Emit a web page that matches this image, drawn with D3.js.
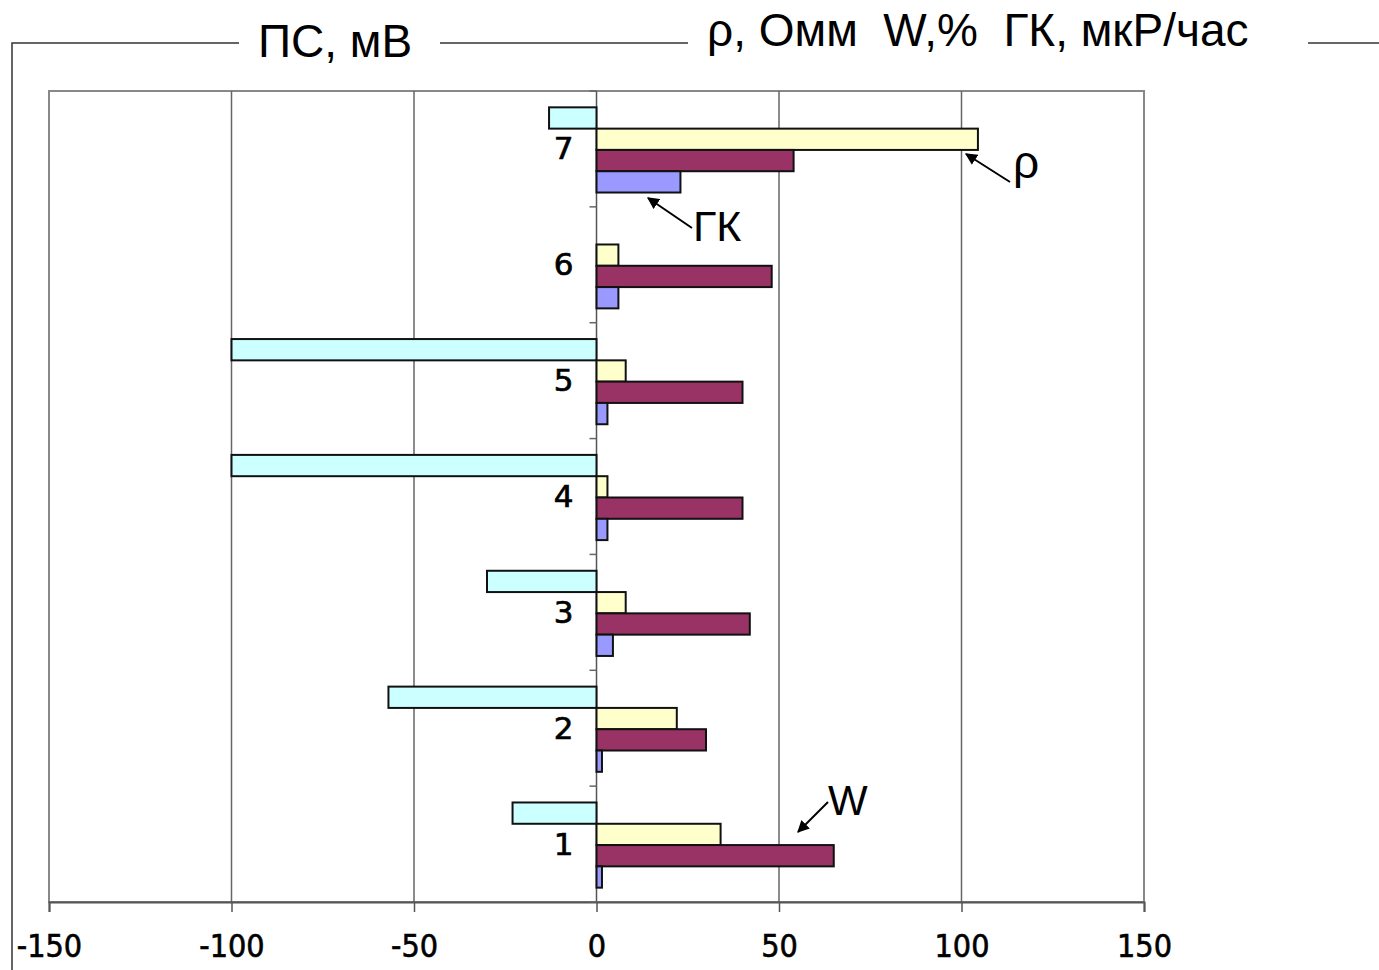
<!DOCTYPE html>
<html>
<head>
<meta charset="utf-8">
<script src="https://cdn.jsdelivr.net/npm/d3@7"></script>
<style>
  html, body { margin: 0; padding: 0; background: #fff; }
  svg { display: block; }
  text { white-space: pre; }
</style>
</head>
<body>
<svg id="chart" width="1379" height="970"></svg>
<script>
// Layer numbers (bottom to top) and measured log values per layer
const categories = ["1", "2", "3", "4", "5", "6", "7"];
const psValues  = [-23, -57, -30, -100, -100, 0, -13];   // ПС, мВ
const rhoValues = [34, 22, 8, 3, 8, 6, 104.5];           // ρ, Омм
const wValues   = [65, 30, 42, 40, 40, 48, 54];          // W, %
const gkValues  = [1.5, 1.5, 4.5, 3, 3, 6, 23];          // ГК, мкР/час
const xTicks = [-150, -100, -50, 0, 50, 100, 150];

const seriesNames  = ["ps", "rho", "w", "gk"];
const seriesColors = { ps: "#ccffff", rho: "#ffffcc", w: "#993366", gk: "#9999ff" };
const seriesData   = { ps: psValues, rho: rhoValues, w: wValues, gk: gkValues };

const svg = d3.select("#chart");
const plotLeft = 49, plotRight = 1144, plotTop = 91, plotBottom = 902;

const x = d3.scaleLinear().domain([-150, 150]).range([plotLeft, plotRight]);
const y = d3.scaleBand().domain(categories.slice().reverse()).range([plotTop, plotBottom]).padding(0);
const ySeries = d3.scaleBand().domain(seriesNames).range([0, y.bandwidth()])
  .paddingInner(0).paddingOuter(0.72);

// outer frame with title gaps
const frame = svg.append("g").attr("stroke", "#333").attr("stroke-width", 1.5).attr("fill", "none");
frame.append("path").attr("d", `M12,970 V43 H239`);
frame.append("path").attr("d", `M440,43 H688`);
frame.append("path").attr("d", `M1308,43 H1379`);

svg.append("text").attr("x", 258).attr("y", 57)
  .attr("font-family", "Liberation Sans, Arial, sans-serif").attr("font-size", 46)
  .text("ПС, мВ");
svg.append("text").attr("x", 707).attr("y", 46)
  .attr("font-family", "Liberation Sans, Arial, sans-serif").attr("font-size", 46)
  .text("ρ, Омм  W,%  ГК, мкР/час");

// plot area border
svg.append("rect").attr("x", plotLeft).attr("y", plotTop)
  .attr("width", plotRight - plotLeft).attr("height", plotBottom - plotTop)
  .attr("fill", "none").attr("stroke", "#888").attr("stroke-width", 2);

// vertical gridlines
svg.append("g").selectAll("line").data(xTicks.filter(d => d !== 0 && Math.abs(d) !== 150)).join("line")
  .attr("x1", d => x(d)).attr("x2", d => x(d)).attr("y1", plotTop).attr("y2", plotBottom)
  .attr("stroke", "#666").attr("stroke-width", 1.5);

// bottom axis
const xAxis = svg.append("g").attr("transform", `translate(0,${plotBottom})`)
  .call(d3.axisBottom(x).tickValues(xTicks).tickSize(10).tickPadding(22).tickFormat(d3.format("d")));
xAxis.select(".domain").attr("stroke", "#555").attr("stroke-width", 2);
xAxis.selectAll(".tick line").attr("stroke", "#555").attr("stroke-width", 1.5);
xAxis.selectAll(".tick text").attr("font-family", "DejaVu Sans Condensed, DejaVu Sans, sans-serif")
  .attr("font-size", 32).attr("fill", "#000").attr("stroke", "#000").attr("stroke-width", 0.6)
  .text(d => d < 0 ? "-" + Math.abs(d) : d);

// category axis at zero
const yAxis = svg.append("g").attr("transform", `translate(${x(0)},0)`);
yAxis.append("line").attr("x1", 0).attr("x2", 0).attr("y1", plotTop).attr("y2", plotBottom)
  .attr("stroke", "#555").attr("stroke-width", 1.5);
const boundaries = d3.range(categories.length + 1).map(i => plotTop + i * y.step());
yAxis.selectAll(".cat-tick").data(boundaries).join("line").attr("class", "cat-tick")
  .attr("x1", -7).attr("x2", 0).attr("y1", d => d).attr("y2", d => d)
  .attr("stroke", "#666").attr("stroke-width", 1.5);

// bars
const groups = svg.append("g").selectAll("g").data(categories).join("g")
  .attr("transform", d => `translate(0,${y(d)})`);
groups.selectAll("rect")
  .data((c, i) => seriesNames.map(s => ({ s, v: seriesData[s][i] })).filter(d => d.v !== 0))
  .join("rect")
  .attr("x", d => x(Math.min(0, d.v)))
  .attr("width", d => Math.abs(x(d.v) - x(0)))
  .attr("y", d => ySeries(d.s) + 1)
  .attr("height", ySeries.bandwidth())
  .attr("fill", d => seriesColors[d.s])
  .attr("stroke", "#111").attr("stroke-width", 2);

// category labels
groups.append("text")
  .attr("x", x(0) - 23).attr("y", y.bandwidth() / 2 + 2)
  .attr("text-anchor", "end").attr("dominant-baseline", "middle")
  .attr("font-family", "DejaVu Sans, sans-serif").attr("font-size", 31)
  .attr("stroke", "#000").attr("stroke-width", 0.7)
  .text(d => d);

// annotations with arrows
svg.append("defs").append("marker").attr("id", "arrow")
  .attr("viewBox", "0 0 10 10").attr("refX", 9).attr("refY", 5)
  .attr("markerWidth", 6).attr("markerHeight", 6).attr("orient", "auto-start-reverse")
  .append("path").attr("d", "M0,0 L10,5 L0,10 z").attr("fill", "#000");

const notes = [
  { label: "ρ", tx: 1013, ty: 178, size: 46, x1: 1010, y1: 182, x2: 966, y2: 154 },
  { label: "ГК", tx: 693, ty: 241, size: 43, x1: 692, y1: 228, x2: 648, y2: 198 },
  { label: "W", tx: 828, ty: 815, size: 42, x1: 828, y1: 802, x2: 798, y2: 832 }
];
const ann = svg.append("g");
ann.selectAll("line").data(notes).join("line")
  .attr("x1", d => d.x1).attr("y1", d => d.y1).attr("x2", d => d.x2).attr("y2", d => d.y2)
  .attr("stroke", "#000").attr("stroke-width", 2).attr("marker-end", "url(#arrow)");
ann.selectAll("text").data(notes).join("text")
  .attr("x", d => d.tx).attr("y", d => d.ty)
  .attr("font-family", "Liberation Sans, Arial, sans-serif").attr("font-size", d => d.size)
  .text(d => d.label);
</script>
</body>
</html>
